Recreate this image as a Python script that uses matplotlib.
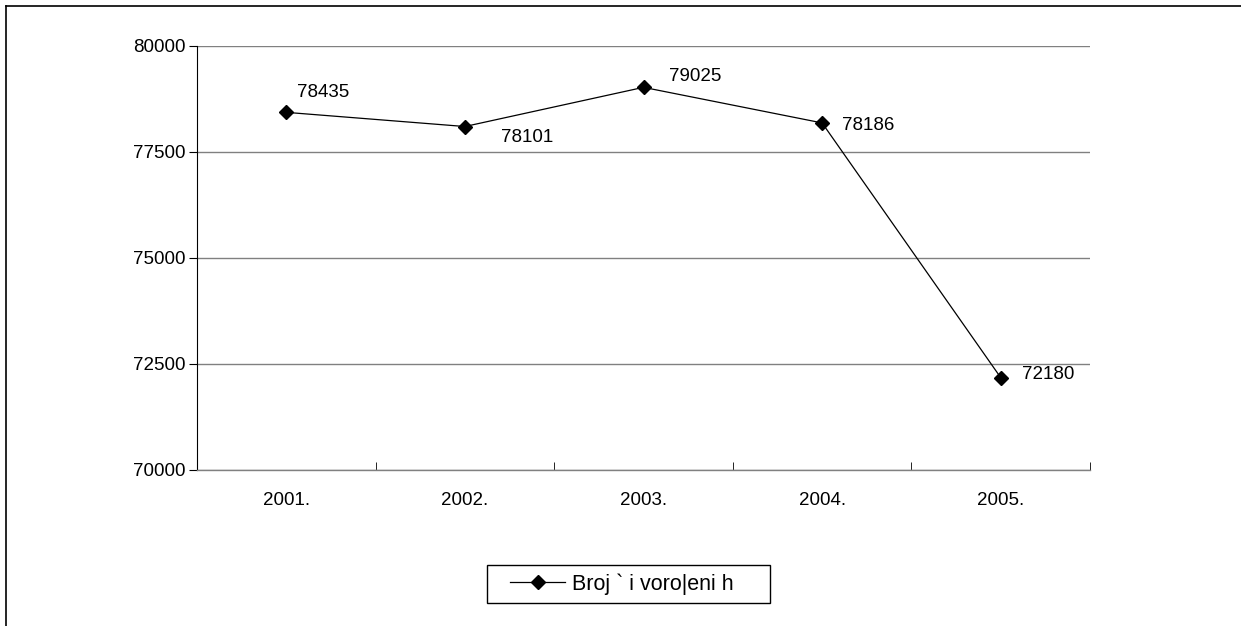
import matplotlib
matplotlib.use("Agg")
import matplotlib.pyplot as plt
from matplotlib.lines import Line2D
from matplotlib.patches import Rectangle

plt.rcParams['font.family'] = ['Liberation Sans', 'DejaVu Sans']

years = ["2001.", "2002.", "2003.", "2004.", "2005."]
births = [78435, 78101, 79025, 78186, 72180]
y_ticks = [70000, 72500, 75000, 77500, 80000]
series_name = "Broj ` i voro|eni h"

# label offsets in pixels (dx to left edge of text, dy up)
label_offsets = [(11, 22), (36, -9), (26, 13), (20, -1), (21, 5)]

FS = 13.5
W, H = 1241, 626
fig = plt.figure(figsize=(W / 100, H / 100), dpi=100)

# outer frame (only top and left edges show)
fig.add_artist(Line2D([6 / W, 1], [1 - 6 / H, 1 - 6 / H], color='black', lw=1.2))
fig.add_artist(Line2D([6 / W, 6 / W], [0, 1 - 6 / H], color='black', lw=1.2))

ax = fig.add_axes([197 / W, 1 - 470 / H, (1090 - 197) / W, (470 - 46) / H])

x = list(range(len(years)))
ax.plot(x, births, color='black', lw=0.9, marker='D', markersize=7,
        markerfacecolor='black', label=series_name)

for xi, v, (dx, dy) in zip(x, births, label_offsets):
    ax.annotate(str(v), (xi, v), xytext=(dx, dy), textcoords='offset pixels',
                ha='left', va='center_baseline', fontsize=FS)

ax.set_xlim(-0.5, len(years) - 0.5)
ax.set_ylim(70000, 80000)
ax.set_yticks(y_ticks)
ax.set_yticklabels([str(t) for t in y_ticks], fontsize=FS)
ax.set_xticks(x)
ax.set_xticklabels(years, fontsize=FS)
ax.set_xticks([i - 0.5 for i in range(len(years) + 1)], minor=True)
ax.tick_params(axis='x', which='major', length=0, pad=16)
ax.tick_params(axis='x', which='minor', length=6, direction='in', color='black')
ax.tick_params(axis='y', length=6, direction='out', pad=2)

ax.grid(axis='y', color='#808080', lw=1)
for s in ['top', 'right']:
    ax.spines[s].set_visible(False)
ax.spines['left'].set_color('black')
ax.spines['bottom'].set_color('#808080')
ax.spines['bottom'].set_linewidth(1)

# legend box drawn separately so it matches the original size
fig.add_artist(Rectangle((487 / W, 1 - 603 / H), (770 - 487) / W, (603 - 565) / H,
                         transform=fig.transFigure, fill=False, edgecolor='black', lw=1))
LFS = 15.5
fig.legend(loc='center left', bbox_to_anchor=(510 / W, 1 - 584 / H),
           frameon=False, fontsize=LFS, borderpad=0, borderaxespad=0,
           handlelength=55 * 0.72 / LFS, handletextpad=7 * 0.72 / LFS)

fig.savefig("out.png", dpi=100)
